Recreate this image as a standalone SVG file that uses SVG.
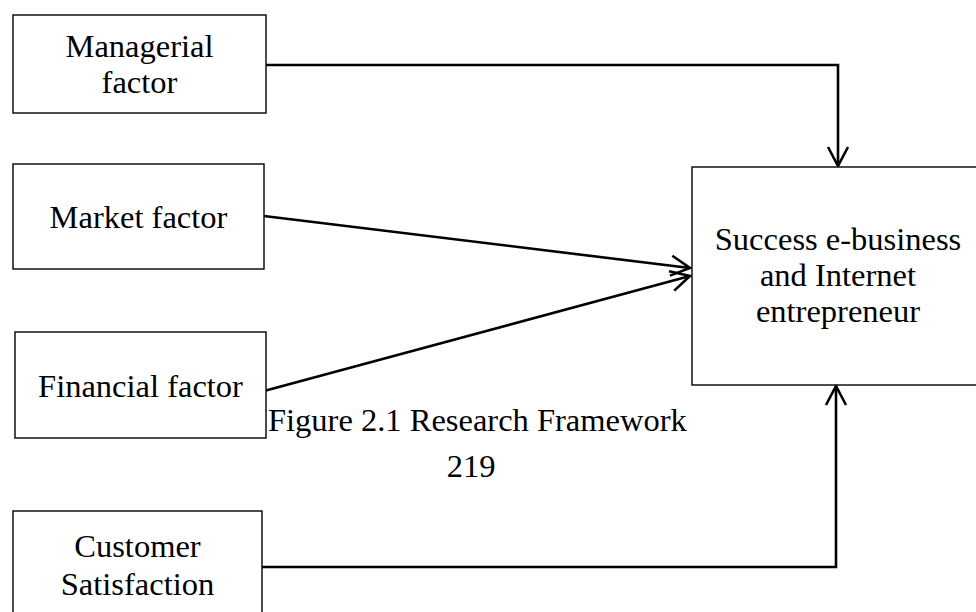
<svg xmlns="http://www.w3.org/2000/svg" width="976" height="612" viewBox="0 0 976 612">
<style>
.box{fill:#fff;stroke:#000;stroke-width:1.4}
.t{font-family:"Liberation Serif","Times New Roman",serif;font-size:32.5px;fill:#000;text-anchor:middle}
.c{fill:none;stroke:#000;stroke-width:2.6}
</style>
<defs>
<marker id="ah" markerUnits="userSpaceOnUse" markerWidth="30" markerHeight="30" refX="20" refY="11" orient="auto" overflow="visible">
<path d="M1,1 L20,11 L1,21" fill="none" stroke="#000" stroke-width="2.6"/>
</marker>
</defs>
<g id="connectors">
<path class="c" d="M266,65 H838 V166" marker-end="url(#ah)"/>
<path class="c" d="M264,216 L690,268" marker-end="url(#ah)"/>
<path class="c" d="M264,391 L690,276" marker-end="url(#ah)"/>
<path class="c" d="M262,567 H836 V386" marker-end="url(#ah)"/>
</g>
<g id="managerial">
<rect class="box" x="13" y="15" width="253" height="98"/>
<text class="t" x="139.5" y="57">Managerial</text>
<text class="t" x="139.5" y="93">factor</text>
</g>
<g id="market">
<rect class="box" x="13" y="164" width="251" height="105"/>
<text class="t" x="138.5" y="228">Market factor</text>
</g>
<g id="financial">
<rect class="box" x="15" y="332" width="251" height="106"/>
<text class="t" x="140.5" y="397">Financial factor</text>
</g>
<g id="customer">
<rect class="box" x="13" y="511" width="249" height="110"/>
<text class="t" x="137.5" y="557">Customer</text>
<text class="t" x="137.5" y="595">Satisfaction</text>
</g>
<g id="success">
<rect class="box" x="692" y="167" width="290" height="218"/>
<text class="t" x="838" y="250">Success e-business</text>
<text class="t" x="838" y="286">and Internet</text>
<text class="t" x="838" y="322">entrepreneur</text>
</g>
<g id="caption">
<text class="t" x="268" y="431" style="text-anchor:start">Figure 2.1 Research Framework</text>
<text class="t" x="471" y="477">219</text>
</g>
</svg>
